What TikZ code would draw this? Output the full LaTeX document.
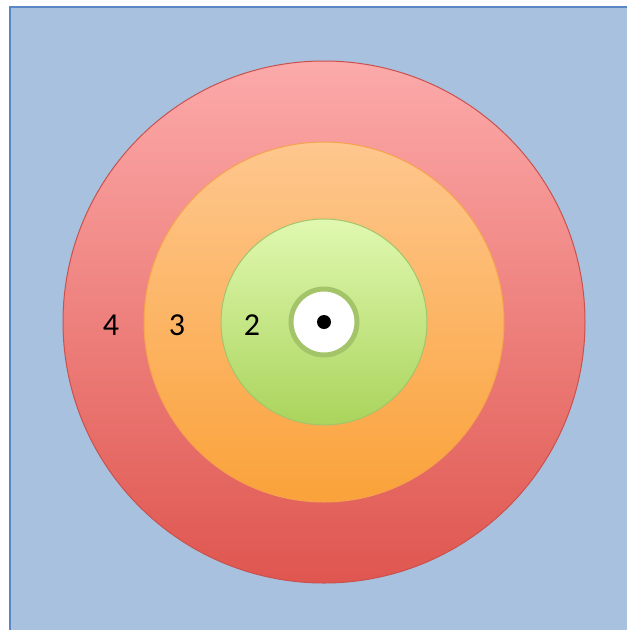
\documentclass[tikz,border=0pt]{standalone}
\usepackage{fontspec}
\setmainfont{Carlito}
\usetikzlibrary{positioning}
\definecolor{bgblue}{HTML}{A7C1DF}
\definecolor{bgedge}{HTML}{5A88C6}
\definecolor{ringred}{HTML}{C9524E}
\definecolor{ringorange}{HTML}{F6A24E}
\definecolor{ringgreen}{HTML}{A4C46A}
\definecolor{redtop}{HTML}{FCAAAA}
\definecolor{redbot}{HTML}{DF564F}
\definecolor{orangetop}{HTML}{FEC78E}
\definecolor{orangebot}{HTML}{FAA23A}
\definecolor{greentop}{HTML}{E0F8B0}
\definecolor{greenbot}{HTML}{AAD45C}

\begin{document}
\begin{tikzpicture}[x=1pt,y=-1pt,
                ring/.style={circle,inner sep=0pt,line width=1pt},
                lbl/.style={font=\fontsize{32}{38}\selectfont,inner sep=0pt}]
                \useasboundingbox (0,0) rectangle (627,630);
                % background
                \fill[bgblue] (10,7) rectangle (627,630);
                \draw[bgedge,line width=2pt] (10,630) -- (10,7) -- (627,7);
                % rings
                \node[ring,minimum size=522pt,draw=ringred,
                      top color=redtop,bottom color=redbot]
                      (outer) at (324,322) {};
                \node[ring,minimum size=360pt,draw=ringorange,
                      top color=orangetop,bottom color=orangebot]
                      (middle) at (outer.center) {};
                \node[ring,minimum size=206pt,draw=ringgreen,
                      top color=greentop,bottom color=greenbot]
                      (inner) at (outer.center) {};
                \node[circle,inner sep=0pt,minimum size=66pt,fill=white,
                      draw=ringgreen,line width=5pt] (bull) at (outer.center) {};
                \node[circle,inner sep=0pt,minimum size=14pt,fill=black] (dot) at (bull.center) {};
                % labels
                \node[lbl] (four)  at (111,325) {4};
                \node[lbl] (three) at (177,325) {3};
                \node[lbl] (two)   at (252,325) {2};
            \end{tikzpicture}
\end{document}
